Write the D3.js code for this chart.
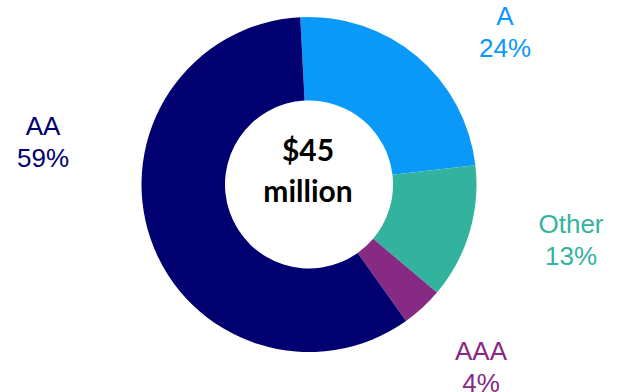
<!DOCTYPE html>
<html>
<head>
<meta charset="utf-8">
<script src="https://cdn.jsdelivr.net/npm/d3@7"></script>
<style>
  body { margin: 0; background: #fff; }
  svg { display: block; }
</style>
</head>
<body>
<svg id="chart" width="617" height="392"></svg>
<script>
// donut data, clockwise from the top
var categories = ["A", "Other", "AAA", "AA"];
var shares = [24, 13, 4, 59];
var colors = ["#0a99f9", "#33b39e", "#862a84", "#000070"];
var totalLines = ["$45", "million"];

// where each label sits (centre of text, baseline of first line)
var labelPos = [[505, 25], [571, 233], [481, 360], [43, 135]];

var width = 617, height = 392;
var cx = 309, cy = 184.5;
var outerR = 167.5, innerR = 84;
var offset = -3 * Math.PI / 180;

var svg = d3.select("#chart");
var g = svg.append("g").attr("transform", "translate(" + cx + "," + cy + ")");

var pie = d3.pie()
    .sort(null)
    .value(function(d) { return d; })
    .startAngle(offset)
    .endAngle(2 * Math.PI + offset);

var arc = d3.arc().innerRadius(innerR).outerRadius(outerR);

g.selectAll("path")
    .data(pie(shares))
    .enter()
    .append("path")
    .attr("d", arc)
    .attr("fill", function(d, i) { return colors[i]; });

// slice labels
var labels = svg.selectAll("text.lbl")
    .data(categories)
    .enter()
    .append("text")
    .attr("class", "lbl")
    .attr("text-anchor", "middle")
    .attr("font-family", "Liberation Sans, Arial, sans-serif")
    .attr("font-size", 26)
    .attr("fill", function(d, i) { return colors[i]; });

labels.append("tspan")
    .attr("x", function(d, i) { return labelPos[i][0]; })
    .attr("y", function(d, i) { return labelPos[i][1]; })
    .text(function(d) { return d; });

labels.append("tspan")
    .attr("x", function(d, i) { return labelPos[i][0]; })
    .attr("y", function(d, i) { return labelPos[i][1] + 32; })
    .text(function(d, i) { return shares[i] + "%"; });

// centre total
svg.append("text")
    .attr("text-anchor", "middle")
    .attr("font-family", "Lato, Open Sans, sans-serif")
    .attr("font-weight", "bold")
    .attr("font-size", 30)
    .attr("fill", "#000")
    .selectAll("tspan")
    .data(totalLines)
    .enter()
    .append("tspan")
    .attr("x", 308)
    .attr("y", function(d, i) { return 161 + i * 41; })
    .text(function(d) { return d; });
</script>
</body>
</html>
